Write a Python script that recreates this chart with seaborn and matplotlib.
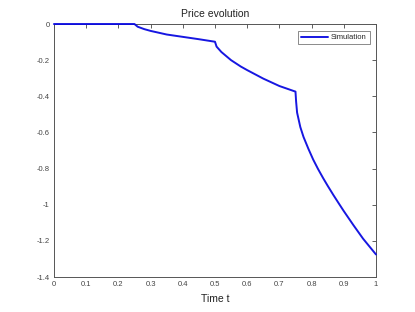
import matplotlib
matplotlib.use("Agg")
import matplotlib.pyplot as plt
import seaborn as sns
import pandas as pd

# Data
time_t = [0.0, 0.10, 0.20, 0.25, 0.26, 0.28, 0.30, 0.33, 0.35, 0.40, 0.45, 0.50,
          0.505, 0.52, 0.55, 0.58, 0.60, 0.65, 0.70, 0.75,
          0.752, 0.755, 0.76, 0.765, 0.775, 0.79, 0.805, 0.82, 0.836, 0.85,
          0.868, 0.885, 0.90, 0.93, 0.96, 1.00]
price = [0.0, 0.0, 0.0, 0.0, -0.015, -0.028, -0.038, -0.050, -0.058, -0.071, -0.084, -0.098,
         -0.125, -0.155, -0.200, -0.235, -0.255, -0.302, -0.343, -0.374,
         -0.43, -0.49, -0.53, -0.57, -0.625, -0.69, -0.75, -0.802, -0.853, -0.895,
         -0.947, -0.994, -1.035, -1.113, -1.188, -1.275]
series_name = "Simulation"
x_ticks = [0, 0.1, 0.2, 0.3, 0.4, 0.5, 0.6, 0.7, 0.8, 0.9, 1]
x_tick_labels = ["0", "0.1", "0.2", "0.3", "0.4", "0.5", "0.6", "0.7", "0.8", "0.9", "1"]
y_ticks = [0, -0.2, -0.4, -0.6, -0.8, -1, -1.2, -1.4]
y_tick_labels = ["0", "-0.2", "-0.4", "-0.6", "-0.8", "-1", "-1.2", "-1.4"]

df = pd.DataFrame({"Time t": time_t, "Price": price, "series": series_name})

sns.set_style("white")
plt.rcParams["font.family"] = ["Liberation Sans", "DejaVu Sans"]

fig = plt.figure(figsize=(4.15, 3.12), dpi=100)
ax = fig.add_axes([0.130, 0.112, 0.776, 0.811])
sns.lineplot(data=df, x="Time t", y="Price", hue="series", palette=["#0a0ae0"],
             linewidth=1.4, ax=ax, legend=True)
for ln in ax.lines:
    ln.set_clip_on(False)
    ln.set_zorder(3)
    ln.set_alpha(0.95)

ax.set_xlim(0, 1)
ax.set_ylim(-1.4, 0)
ax.set_xticks(x_ticks)
ax.set_xticklabels(x_tick_labels)
ax.set_yticks(y_ticks)
ax.set_yticklabels(y_tick_labels)
ax.tick_params(direction="in", length=3, width=0.6, colors="#444444", labelsize=5.5,
               top=True, right=True, pad=3)
for s in ax.spines.values():
    s.set_color("#555555")
    s.set_linewidth(0.7)
ax.set_xlabel("Time t", fontsize=7.5, color="#222222", labelpad=4)
ax.set_ylabel("")
ax.set_title("Price evolution", fontsize=7.5, color="#222222", pad=5)

leg = ax.legend(loc="upper right", fontsize=5.5, frameon=True, fancybox=False,
                handlelength=3.5, borderpad=0.4, handletextpad=0.4,
                bbox_to_anchor=(0.993, 0.988))
leg.get_frame().set_edgecolor("#555555")
leg.get_frame().set_linewidth(0.6)

fig.savefig("out.png", dpi=100, facecolor="white")
